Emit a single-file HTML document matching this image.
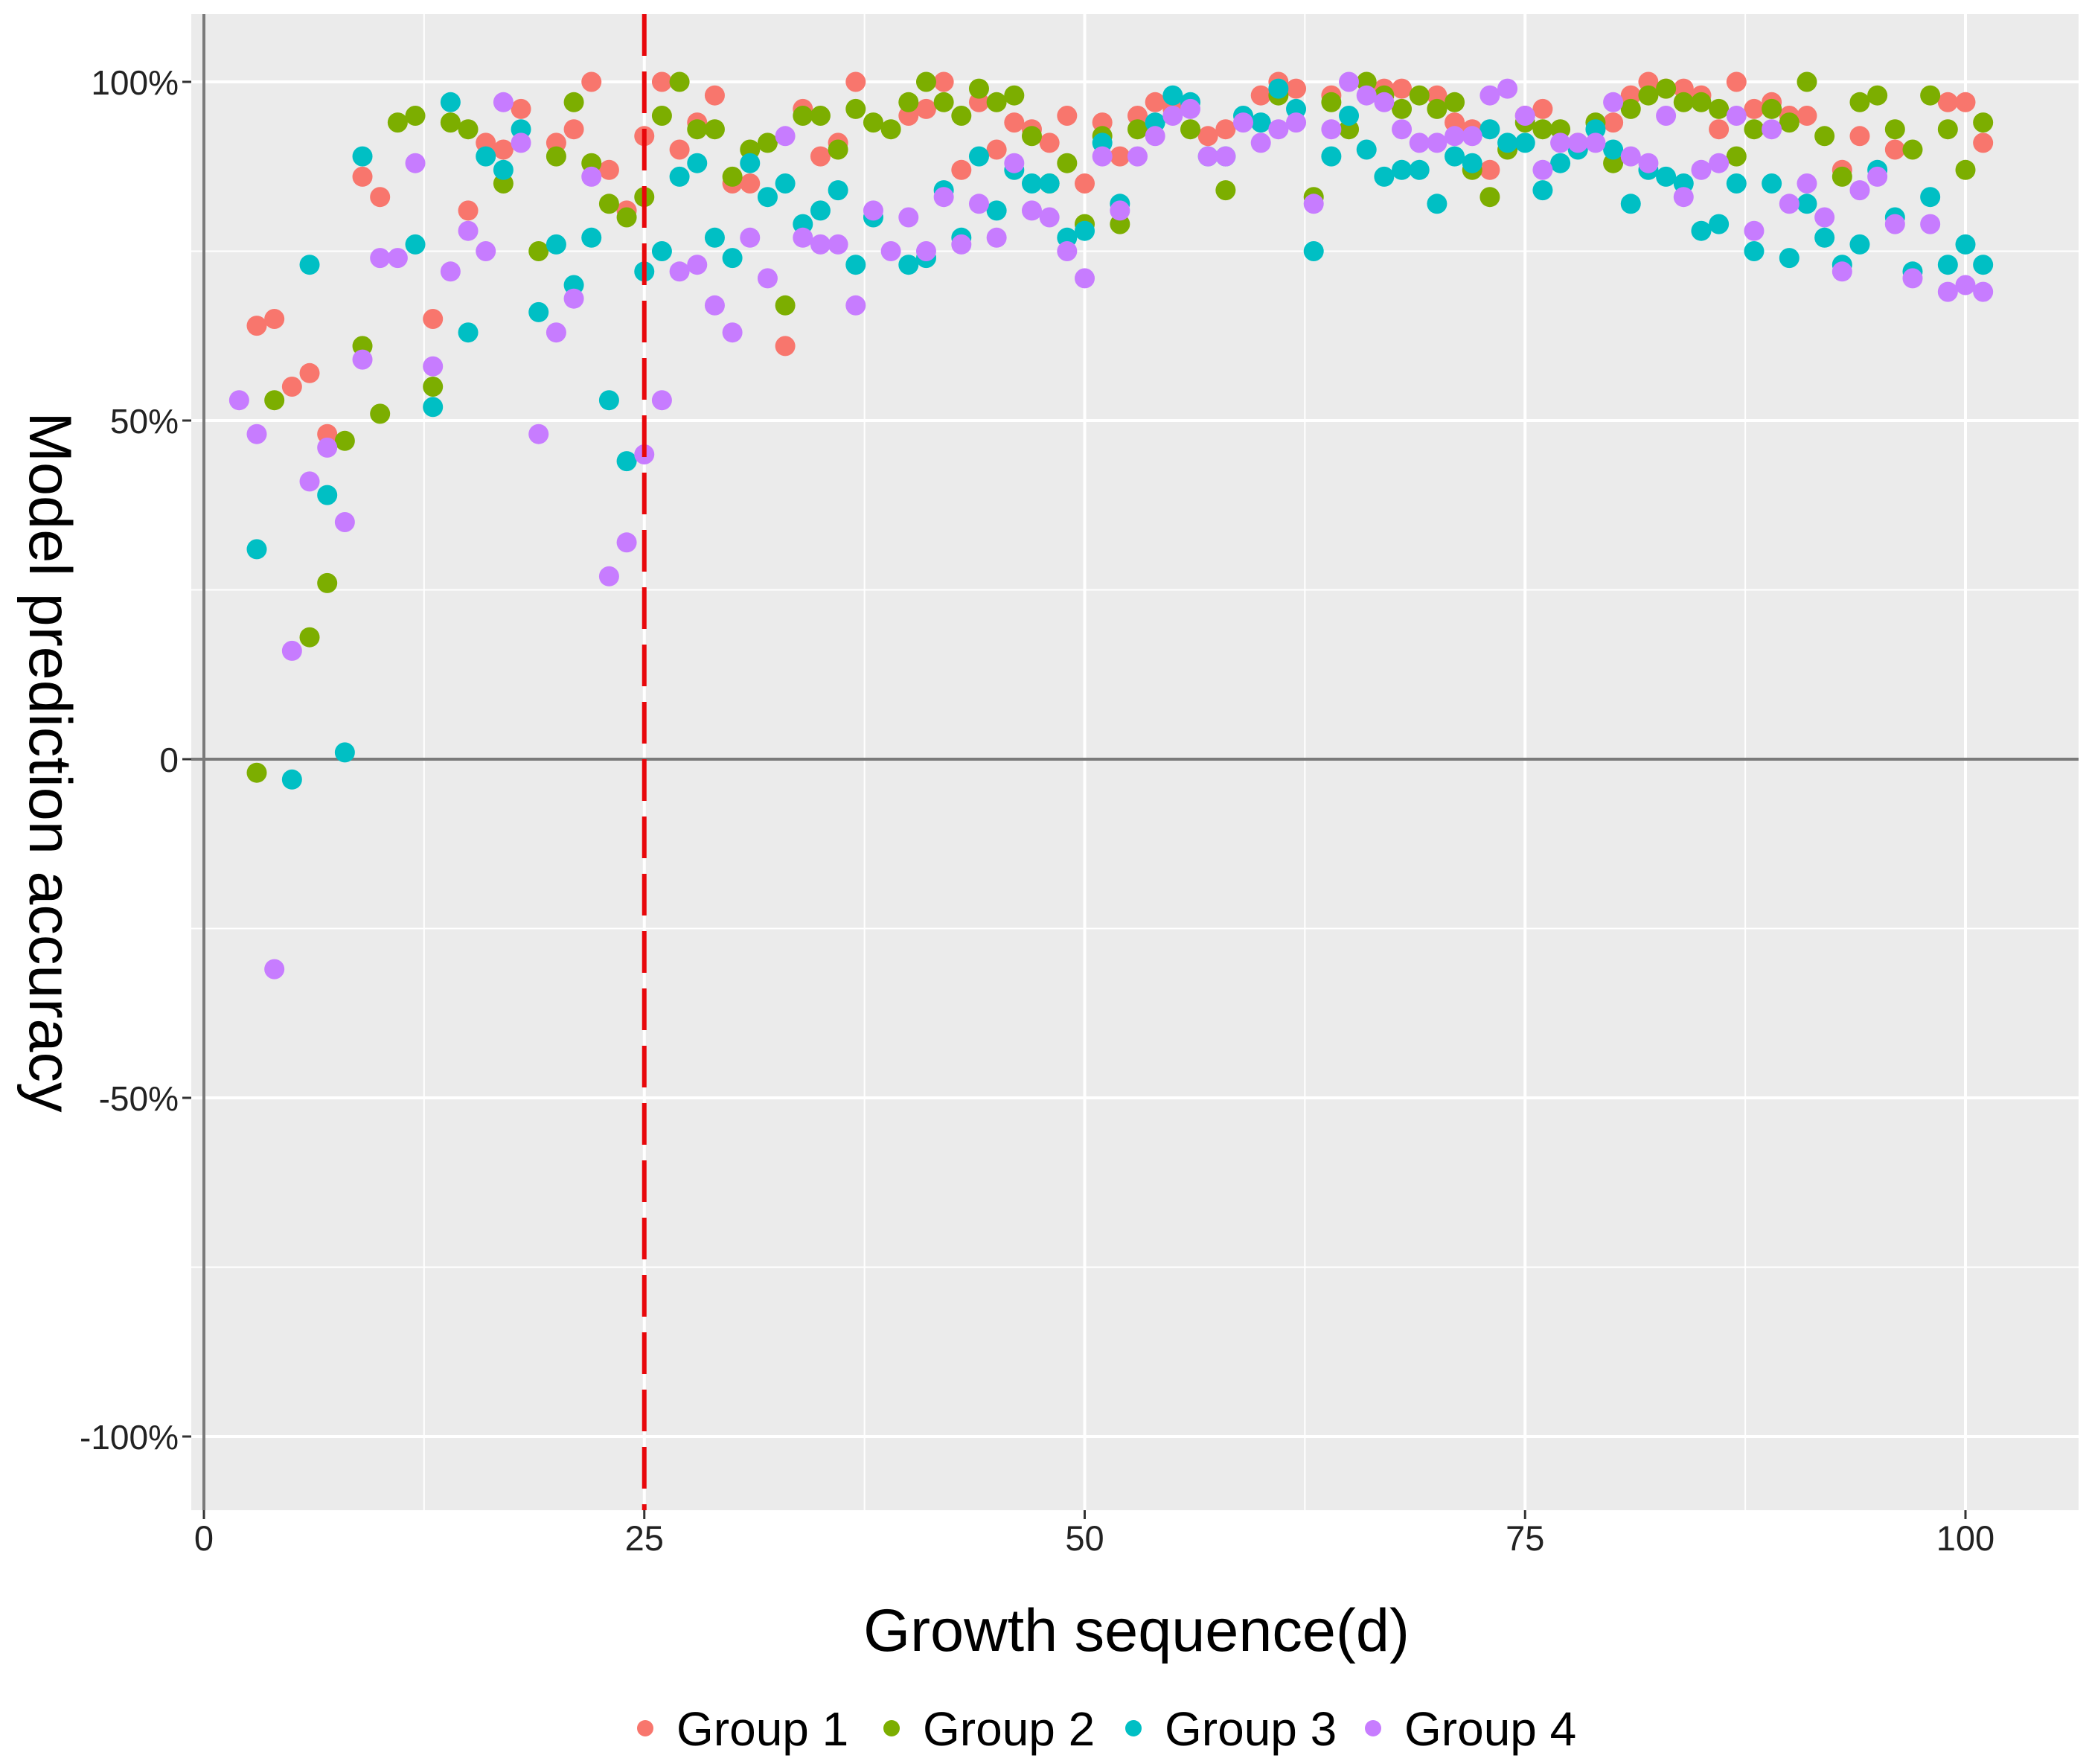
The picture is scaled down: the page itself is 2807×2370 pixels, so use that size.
<!DOCTYPE html>
<html><head><meta charset="utf-8"><style>
html,body{margin:0;padding:0;background:#fff;}
svg{display:block;font-family:"Liberation Sans",Arial,sans-serif;}
</style></head><body>
<svg id="chart" width="2807" height="2370" viewBox="0 0 2807 2370" xmlns="http://www.w3.org/2000/svg"></svg>
<script>
const days = [];
for (let d = 2; d <= 101; d++) days.push(d);
const xTicks = [0, 25, 50, 75, 100];
const xTickLabels = ["0", "25", "50", "75", "100"];
const yTicks = [100, 50, 0, -50, -100];
const yTickLabels = ["100%", "50%", "0", "-50%", "-100%"];
const groupNames = ["Group 1", "Group 2", "Group 3", "Group 4"];
const group1 = [null,64,65,55,57,48,null,86,83,null,null,65,null,81,91,90,96,null,91,93,100,87,81,92,100,90,94,98,85,85,null,61,96,89,91,100,null,null,95,96,100,87,97,90,94,93,91,95,85,94,89,95,97,96,null,92,93,null,98,100,99,null,98,null,null,99,99,null,98,94,93,87,null,95,96,null,91,null,94,98,100,99,99,98,93,100,96,97,95,95,null,87,92,null,90,null,null,97,97,91];
const group2 = [null,-2,53,null,18,26,47,61,51,94,95,55,94,93,null,85,null,75,89,97,88,82,80,83,95,100,93,93,86,90,91,67,95,95,90,96,94,93,97,100,97,95,99,97,98,92,85,88,79,92,79,93,null,null,93,null,84,null,null,98,null,83,97,93,100,98,96,98,96,97,87,83,90,94,93,93,null,94,88,96,98,99,97,97,96,89,93,96,94,100,92,86,97,98,93,90,98,93,87,94];
const group3 = [null,31,null,-3,73,39,1,89,null,null,76,52,97,63,89,87,93,66,76,70,77,53,44,72,75,86,88,77,74,88,83,85,79,81,84,73,80,null,73,74,84,77,89,81,87,85,85,77,78,91,82,null,94,98,97,89,89,95,94,99,96,75,89,95,90,86,87,87,82,89,88,93,91,91,84,88,90,93,90,82,87,86,85,78,79,85,75,85,74,82,77,73,76,87,80,72,83,73,76,73];
const group4 = [53,48,-31,16,41,46,35,59,74,74,88,58,72,78,75,97,91,48,63,68,86,27,32,45,53,72,73,67,63,77,71,92,77,76,76,67,81,75,80,75,83,76,82,77,88,81,80,75,71,89,81,89,92,95,96,89,89,94,91,93,94,82,93,100,98,97,93,91,91,92,92,98,99,95,87,91,91,91,97,89,88,95,83,87,88,95,78,93,82,85,80,72,84,86,79,71,79,69,70,69];
const groups = [group1, group2, group3, group4];
const colors = ["#F8766D", "#7CAE00", "#00BFC4", "#C77CFF"];
const cutoffDay = 25;

const NS = "http://www.w3.org/2000/svg";
const svg = document.getElementById("chart");
const P = {left: 257, right: 2793, top: 19, bottom: 2029};
const X0 = 274, XU = 23.67, Y0 = 1020, YU = 9.1;
const xs = v => X0 + v * XU;
const ys = v => Y0 - v * YU;
function mk(tag, attrs, parent) {
  const e = document.createElementNS(NS, tag);
  for (const k in attrs) e.setAttribute(k, attrs[k]);
  (parent || svg).appendChild(e);
  return e;
}
const bg = mk("rect", {x: P.left, y: P.top, width: P.right - P.left, height: P.bottom - P.top, fill: "#EBEBEB"});



const grid = mk("g", {});


for (let i = 0; i < xTicks.length; i++) {
  const v = xTicks[i];
  mk("line", {x1: xs(v), x2: xs(v), y1: P.top, y2: P.bottom, stroke: "#fff", "stroke-width": 4}, grid);
  const m = v + 12.5;
  if (xs(m) < P.right) mk("line", {x1: xs(m), x2: xs(m), y1: P.top, y2: P.bottom, stroke: "#fff", "stroke-width": 2}, grid);
}
for (let i = 0; i < yTicks.length; i++) {
  const v = yTicks[i];
  mk("line", {x1: P.left, x2: P.right, y1: ys(v), y2: ys(v), stroke: "#fff", "stroke-width": 4}, grid);
  const m = v - 25;
  if (ys(m) < P.bottom) mk("line", {x1: P.left, x2: P.right, y1: ys(m), y2: ys(m), stroke: "#fff", "stroke-width": 2}, grid);
}
mk("line", {x1: P.left, x2: P.right, y1: ys(75), y2: ys(75), stroke: "#fff", "stroke-width": 2}, grid);

const zeroH = mk("line", {x1: P.left, x2: P.right, y1: ys(0), y2: ys(0), stroke: "#7a7a7a", "stroke-width": 4});


const zeroV = mk("line", {x1: xs(0), x2: xs(0), y1: P.top, y2: P.bottom, stroke: "#7a7a7a", "stroke-width": 4});



for (let g = 0; g < groups.length; g++) {
  const gg = mk("g", {});
  
  
  for (let i = 0; i < days.length; i++) {
    const v = groups[g][i];
    if (v === null) continue;
    const c = mk("circle", {cx: xs(days[i]), cy: ys(v), r: 13.5, fill: colors[g]}, gg);
    
    
  }
}

const cut = mk("line", {x1: xs(cutoffDay), x2: xs(cutoffDay), y1: P.top, y2: P.bottom, stroke: "#E8070B", "stroke-width": 6, "stroke-dasharray": "56 21"});



const xAxis = mk("g", {});


for (let i = 0; i < xTicks.length; i++) {
  mk("line", {x1: xs(xTicks[i]), x2: xs(xTicks[i]), y1: P.bottom, y2: P.bottom + 12, stroke: "#333", "stroke-width": 3}, xAxis);
  const t = mk("text", {x: xs(xTicks[i]), y: 2083, "text-anchor": "middle", "font-size": 47, fill: "#222"}, xAxis);
  t.textContent = xTickLabels[i];
  
  
}
const yAxis = mk("g", {});


for (let i = 0; i < yTicks.length; i++) {
  mk("line", {x1: P.left - 12, x2: P.left, y1: ys(yTicks[i]), y2: ys(yTicks[i]), stroke: "#333", "stroke-width": 3}, yAxis);
  const t = mk("text", {x: 240, y: ys(yTicks[i]) + 17, "text-anchor": "end", "font-size": 46, fill: "#222"}, yAxis);
  t.textContent = yTickLabels[i];
  
  
}
const xt = mk("text", {x: 1527, y: 2218, "text-anchor": "middle", "font-size": 81, fill: "#000"});
xt.textContent = "Growth sequence(d)";


const yt = mk("text", {x: 0, y: 0, "text-anchor": "middle", "font-size": 81, fill: "#000", transform: "translate(40,1024) rotate(90)"});
yt.textContent = "Model prediction accuracy";



const legDotX = [867, 1198, 1523, 1845];
const legend = mk("g", {});


for (let g = 0; g < groupNames.length; g++) {
  const e = mk("g", {}, legend);
  
  
  mk("circle", {cx: legDotX[g], cy: 2322, r: 11, fill: colors[g]}, e);
  const t = mk("text", {x: legDotX[g] + 42, y: 2345, "font-size": 64, fill: "#000"}, e);
  t.textContent = groupNames[g];
}
</script>
</body></html>
